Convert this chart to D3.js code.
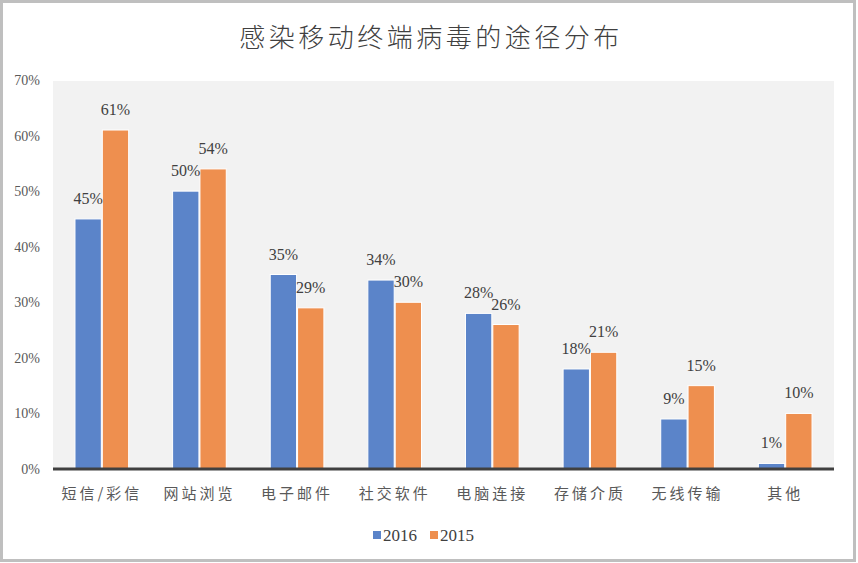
<!DOCTYPE html>
<html><head><meta charset="utf-8">
<script src="https://cdn.jsdelivr.net/npm/d3@7"></script>
<style>
html,body{margin:0;padding:0;background:#fff;}
svg{display:block;}
</style>
</head><body>
<svg id="c" width="858" height="563"></svg>
<script>
const categories = ["短信/彩信","网站浏览","电子邮件","社交软件","电脑连接","存储介质","无线传输","其他"];
const series = ["2016","2015"];
const values2016 = [45, 50, 35, 34, 28, 18, 9, 1];
const values2015 = [61, 54, 29, 30, 26, 21, 15, 10];
const yTicks = [0,10,20,30,40,50,60,70];
const colors = ["#5B84C9","#EE8F4F"];
const title = "感染移动终端病毒的途径分布";

const svg = d3.select("#c");
const W = 858, H = 563;
const cjk = "'Noto Sans CJK SC', sans-serif";
const serif = "'Liberation Serif', 'DejaVu Serif', serif";

svg.append("rect").attr("x",1.5).attr("y",1.5).attr("width",W-5).attr("height",H-4)
  .attr("fill","#fff").attr("stroke","#bfbfbf").attr("stroke-width",3);

const m = {left:53, right:834, top:81, bottom:469};
const x0 = d3.scaleBand().domain(categories).range([m.left,m.right]).paddingInner(0.44).paddingOuter(0.22);
const x1 = d3.scaleBand().domain(series).range([0,x0.bandwidth()]).padding(0);
const y = d3.scaleLinear().domain([0,70]).range([m.bottom,m.top-1]);

svg.append("rect").attr("x",m.left).attr("y",m.top).attr("width",m.right-m.left).attr("height",m.bottom-m.top).attr("fill","#f2f2f2");

svg.append("text").attr("x",431).attr("y",47).attr("text-anchor","middle")
  .attr("font-family",cjk).attr("font-size",26).attr("font-weight",300).attr("fill","#404040").attr("letter-spacing",3.5).text(title);

// y axis
const yAxis = d3.axisLeft(y).tickValues(yTicks).tickFormat(d=>d+"%").tickSize(0).tickPadding(0);
const ya = svg.append("g").attr("transform",`translate(40,0)`).call(yAxis);
ya.select(".domain").remove();
ya.selectAll("text").attr("font-family",serif).attr("font-size",14).attr("fill","#595959");

const data = categories.map((c,i)=>({cat:c, vals:[{s:"2016",v:values2016[i]},{s:"2015",v:values2015[i]}]}));
const g = svg.append("g");
const grp = g.selectAll("g").data(data).join("g").attr("transform",d=>`translate(${x0(d.cat)},0)`);
grp.selectAll("rect").data(d=>d.vals).join("rect")
  .attr("x",d=>x1(d.s)+0.5).attr("width",x1.bandwidth()-1)
  .attr("y",d=>y(d.v)).attr("height",d=>m.bottom-y(d.v))
  .attr("fill",(d,i)=>colors[i]).attr("stroke","#fff").attr("stroke-width",1);
grp.selectAll("text").data(d=>d.vals).join("text")
  .attr("x",d=>x1(d.s)+x1.bandwidth()/2).attr("y",d=>y(d.v)-15)
  .attr("text-anchor","middle").attr("font-family",serif).attr("font-size",16).attr("fill","#404040")
  .text(d=>d.v+"%");

// x axis
const xAxis = d3.axisBottom(x0).tickSize(0).tickPadding(0);
const xa = svg.append("g").attr("transform",`translate(0,${m.bottom})`).call(xAxis);
xa.select(".domain").remove();
xa.selectAll("text").attr("dy",null).attr("y",30).attr("font-family",cjk).attr("font-size",15).attr("fill","#595959").attr("letter-spacing",3);
svg.append("line").attr("x1",m.left).attr("x2",m.right).attr("y1",m.bottom).attr("y2",m.bottom)
  .attr("stroke","#404040").attr("stroke-width",3);

// legend
const lg = svg.append("g");
const lx = [373, 430];
series.forEach((s,i)=>{
  lg.append("rect").attr("x",lx[i]).attr("y",531).attr("width",8).attr("height",8).attr("fill",colors[i]);
  lg.append("text").attr("x",lx[i]+10).attr("y",541).attr("font-family",serif).attr("font-size",17).attr("fill","#404040").text(s);
});
</script>
</body></html>
